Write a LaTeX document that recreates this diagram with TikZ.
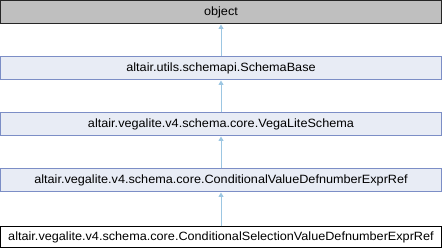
\documentclass[tikz,border=0pt]{standalone}
\usepackage{graphicx}
\usepackage{fontspec}
\setmainfont{Liberation Sans}
\usetikzlibrary{arrows.meta}
\definecolor{classfill}{HTML}{E8ECF5}
\definecolor{classedge}{HTML}{7C8EC6}
\definecolor{rootfill}{HTML}{BFBFBF}
\definecolor{inherit}{HTML}{9CC6E2}
% class names are set slightly widened
\newcommand\clsname[1]{\scalebox{1.055}[1]{#1}}
\begin{document}
\begin{tikzpicture}[x=1pt,y=1pt,
  cls/.style={draw=classedge, fill=classfill, line width=1pt, rectangle,
    minimum width=441pt, minimum height=23pt, inner sep=0pt, anchor=north,
    font=\fontsize{12}{14}\selectfont},
  root/.style={cls, draw=black!85, fill=rootfill},
  leaf/.style={cls, draw=black, fill=white, minimum height=21pt},
  isa/.style={draw=inherit, line width=1pt, -{Triangle[length=4.5pt,width=5pt]}}]
\useasboundingbox (0,0) rectangle (442,-248);
\node[root] (obj)  at (221,-0.5)   {\clsname{object}};
\node[cls]  (base) at (221,-56.5)  {\clsname{altair.utils.schemapi.SchemaBase}};
\node[cls]  (vls)  at (221,-112.5) {\clsname{altair.vegalite.v4.schema.core.VegaLiteSchema}};
\node[cls]  (cvd)  at (221,-168.5) {\clsname{altair.vegalite.v4.schema.core.ConditionalValueDefnumberExprRef}};
\node[leaf] (csv)  at (221,-226.5) {\clsname{altair.vegalite.v4.schema.core.ConditionalSelectionValueDefnumberExprRef}};
\draw[isa] (base.north) -- (obj.south);
\draw[isa] (vls.north) -- (base.south);
\draw[isa] (cvd.north) -- (vls.south);
\draw[isa] (csv.north) -- (cvd.south);
\end{tikzpicture}
\end{document}
